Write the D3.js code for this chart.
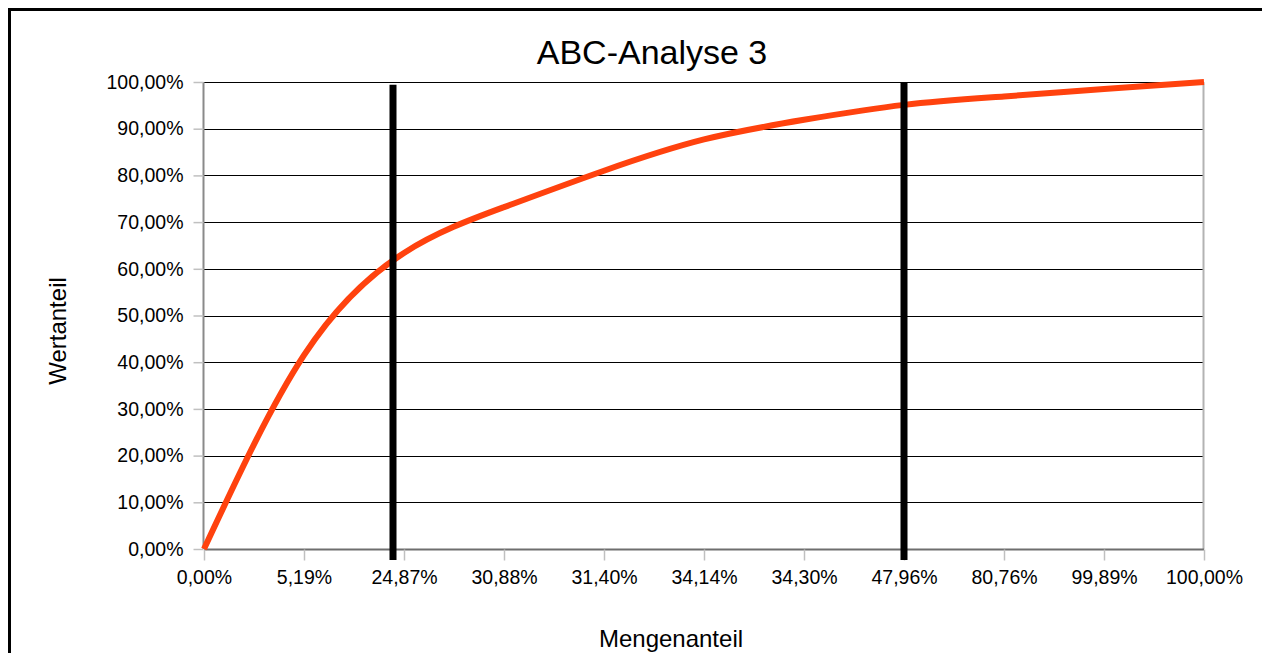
<!DOCTYPE html>
<html>
<head>
<meta charset="utf-8">
<script src="https://cdn.jsdelivr.net/npm/d3@7"></script>
<style>
  html, body { margin: 0; padding: 0; background: #fff; }
  svg { display: block; font-family: "Liberation Sans", Arial, sans-serif; }
</style>
</head>
<body>
<svg id="chart" width="1262" height="653"></svg>
<script>
// Cumulative quantity share (category labels) and cumulative value share (%)
const categories = ["0,00%", "5,19%", "24,87%", "30,88%", "31,40%", "34,14%",
                    "34,30%", "47,96%", "80,76%", "99,89%", "100,00%"];
const valueShare = [0, 41.5, 63.4, 73.2, 81.0, 87.7, 91.9, 95.1, 96.9, 98.5, 100];
const yTicks = [0, 10, 20, 30, 40, 50, 60, 70, 80, 90, 100];
// A/B and B/C class boundaries, given as positions along the category axis
const classBounds = [1.89, 7.0];

const svg = d3.select("#chart");
const W = 1262, H = 653;
const plot = { left: 204, right: 1204, top: 82, bottom: 549 };

// Outer frame
svg.append("rect")
  .attr("x", 9.5).attr("y", 9.5)
  .attr("width", W + 20).attr("height", H + 20)
  .attr("fill", "none").attr("stroke", "#000").attr("stroke-width", 3);

const x = d3.scalePoint().domain(categories).range([plot.left, plot.right]);
const xIdx = d3.scaleLinear().domain([0, categories.length - 1]).range([plot.left, plot.right]);
const y = d3.scaleLinear().domain([0, 100]).range([plot.bottom, plot.top]);

const fmt = v => d3.format(".2f")(v).replace(".", ",") + "%";

// Horizontal grid lines
svg.append("g")
  .selectAll("line").data(yTicks).join("line")
  .attr("x1", plot.left).attr("x2", plot.right)
  .attr("y1", d => Math.round(y(d)) + 0.5).attr("y2", d => Math.round(y(d)) + 0.5)
  .attr("stroke", "#000").attr("stroke-width", 1.2);

// Right border of the plot area
svg.append("line")
  .attr("x1", plot.right - 0.5).attr("x2", plot.right - 0.5)
  .attr("y1", plot.top).attr("y2", plot.bottom)
  .attr("stroke", "#b3b3b3").attr("stroke-width", 2);

// Y axis
const yAxis = svg.append("g")
  .attr("transform", `translate(${plot.left - 0.5},0)`)
  .call(d3.axisLeft(y).tickValues(yTicks).tickFormat(fmt).tickSize(10).tickPadding(10));
yAxis.select(".domain").attr("stroke", "#8a8a8a").attr("stroke-width", 2)
  .attr("d", `M0,${plot.top}V${plot.bottom}`);
yAxis.selectAll(".tick line").attr("stroke", "#c0c0c0").attr("stroke-width", 1.5);
yAxis.selectAll(".tick text").attr("font-size", 19.5).attr("fill", "#000")
  .attr("font-family", "Liberation Sans, Arial, sans-serif");

// X axis
const xAxis = svg.append("g")
  .attr("transform", `translate(0,${plot.bottom + 0.5})`)
  .call(d3.axisBottom(x).tickSize(11).tickPadding(10));
xAxis.select(".domain").attr("stroke", "#6e6e6e").attr("stroke-width", 2)
  .attr("d", `M${plot.left},0H${plot.right}`);
xAxis.selectAll(".tick line").attr("stroke", "#c0c0c0").attr("stroke-width", 1.5);
xAxis.selectAll(".tick text").attr("font-size", 19.5).attr("fill", "#000")
  .attr("font-family", "Liberation Sans, Arial, sans-serif");

// Cumulative value curve
const line = d3.line()
  .x((d, i) => x(categories[i]))
  .y(d => y(d))
  .curve(d3.curveNatural);
svg.append("path")
  .datum(valueShare)
  .attr("d", line)
  .attr("fill", "none")
  .attr("stroke", "#ff420e")
  .attr("stroke-width", 6)
  .attr("stroke-linejoin", "round");

// Class boundary markers
svg.append("g")
  .selectAll("line").data(classBounds).join("line")
  .attr("x1", d => xIdx(d)).attr("x2", d => xIdx(d))
  .attr("y1", (d, i) => i === 0 ? y(99.4) : y(100))
  .attr("y2", plot.bottom + 11)
  .attr("stroke", "#000").attr("stroke-width", 7);

// Title
svg.append("text")
  .attr("x", 652).attr("y", 64)
  .attr("text-anchor", "middle")
  .attr("font-size", 34)
  .text("ABC-Analyse 3");

// Axis titles
svg.append("text")
  .attr("x", 671).attr("y", 647)
  .attr("text-anchor", "middle")
  .attr("font-size", 24)
  .text("Mengenanteil");

svg.append("text")
  .attr("transform", "translate(66,331) rotate(-90)")
  .attr("text-anchor", "middle")
  .attr("font-size", 24)
  .text("Wertanteil");
</script>
</body>
</html>
